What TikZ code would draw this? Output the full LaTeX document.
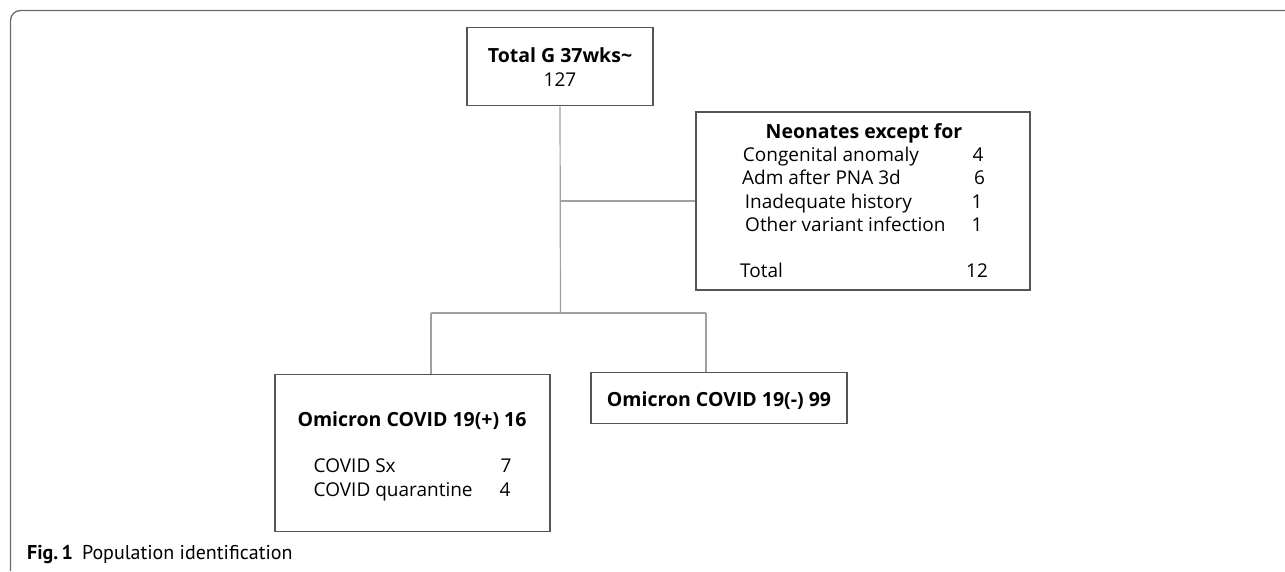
\documentclass[tikz,border=0pt]{standalone}
\usepackage{fontspec}
\setmainfont{Open Sans}
\newfontfamily\capfont{PT Sans}
\begin{document}
\begin{tikzpicture}[x=1pt,y=-1pt,
  box/.style={draw=boxgray, line width=1.3pt, rectangle, inner sep=0pt},
  conn/.style={draw=conngray, line width=1.2pt},
  txt/.style={inner sep=0pt, font=\fontsize{19}{22}\selectfont},
  btxt/.style={inner sep=0pt, font=\fontsize{19.5}{22}\selectfont\bfseries},
  frame/.style={draw=framegray, line width=1.3pt}]
\definecolor{boxgray}{HTML}{555555}
\definecolor{conngray}{HTML}{A0A0A0}
\definecolor{framegray}{HTML}{6A6A6A}
\useasboundingbox (0,0) rectangle (1285,571);
% outer frame
\draw[frame, rounded corners=10pt] (1285,10.5) -- (10.5,10.5) -- (10.5,571);
% boxes
\node[box, minimum width=186pt, minimum height=78pt] (top) at (560,66.8) {};
\node[box, minimum width=334pt, minimum height=178pt] (neo) at (863,201) {};
\node[box, minimum width=275pt, minimum height=157pt] (omp) at (412.5,452.7) {};
\node[box, minimum width=256pt, minimum height=51pt] (omn) at (719,398.3) {};
% top box text
\node[btxt, anchor=base] (t1) at (560,62.7) {Total G 37wks\char"7E};
\node[txt, anchor=base] (t2) at (560,86) {127};
% neonates text
\node[btxt, anchor=base] (n0) at (864,138.5) {Neonates except for};
\node[txt, anchor=base west] (n1) at (742.7,161.7) {Congenital anomaly};
\node[txt, anchor=base west] (n2) at (742,184.5) {Adm after PNA 3d};
\node[txt, anchor=base west] (n3) at (744.7,208) {Inadequate history};
\node[txt, anchor=base west] (n4) at (745,231) {Other variant infection};
\node[txt, anchor=base west] (n5) at (740,277.7) {Total};
\node[txt, anchor=base] (v1) at (978,161.7) {4};
\node[txt, anchor=base] (v2) at (979.5,184.5) {6};
\node[txt, anchor=base] (v3) at (977,208) {1};
\node[txt, anchor=base] (v4) at (977,231) {1};
\node[txt, anchor=base] (v5) at (977,277.7) {12};
% omicron + text
\node[btxt, anchor=base] (p0) at (412,426) {Omicron COVID 19(+) 16};
\node[txt, anchor=base west] (p1) at (313.5,472.7) {COVID Sx};
\node[txt, anchor=base west] (p2) at (313.5,496) {COVID quarantine};
\node[txt, anchor=base] (pv1) at (506,472.7) {7};
\node[txt, anchor=base] (pv2) at (505,496) {4};
% omicron - text
\node[btxt, anchor=base] (m0) at (719,406) {Omicron COVID 19(-) 99};
% connectors
\coordinate (j1) at (top.south |- neo.west);
\coordinate (j2) at (560.5,313);
\coordinate (jl) at (431,313);
\coordinate (jr) at (706,313);
\draw[conn] (top.south) -- (j2);
\draw[conn] (j1) -- (neo.west);
\draw[conn] (jl) -- (jr);
\draw[conn] (jl) -- (jl |- omp.north);
\draw[conn] (jr) -- (jr |- omn.north);
% caption
\node[inner sep=0pt, anchor=base west, font=\capfont\fontsize{20}{22}\selectfont] (cap) at (27,559) {\textbf{Fig.\,1}\hspace{9pt}Population identification};
\end{tikzpicture}
\end{document}
